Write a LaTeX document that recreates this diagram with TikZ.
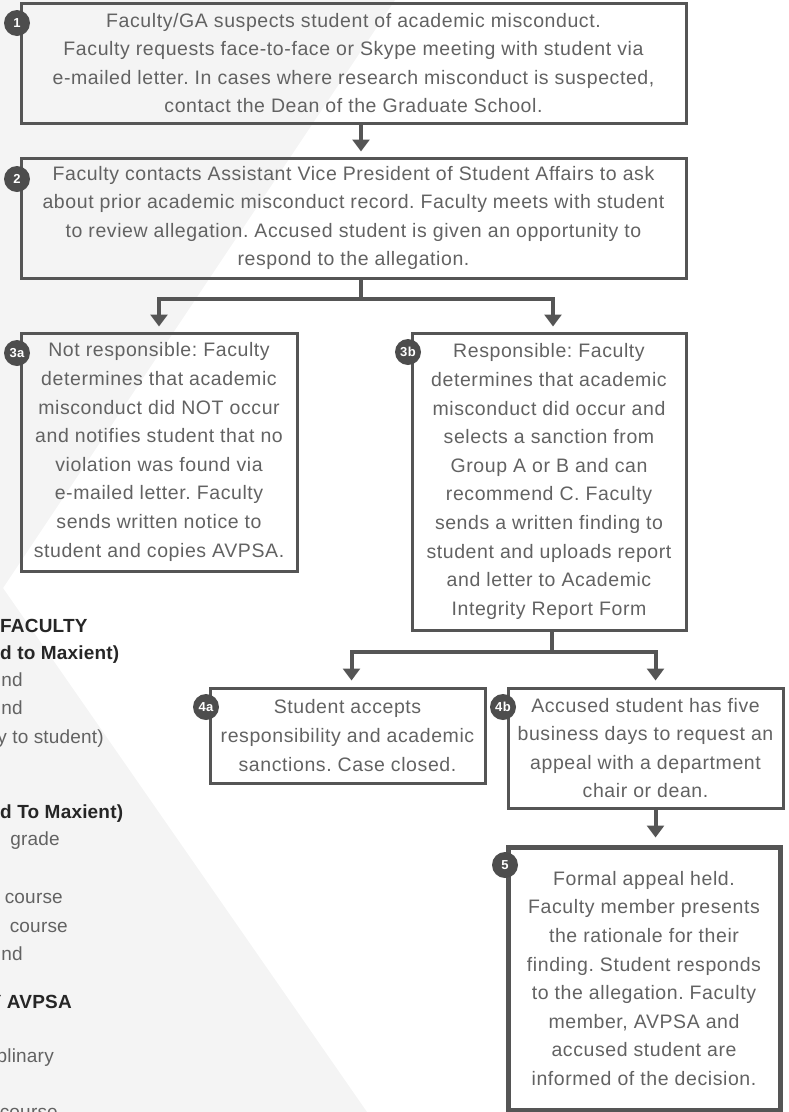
\documentclass[tikz,border=0pt]{standalone}
\usepackage{fontspec}
\setmainfont{Liberation Sans}[LetterSpace=3]
\newfontfamily\sidefont{Liberation Sans}[LetterSpace=1]
\usepackage{tikz}
\usetikzlibrary{arrows.meta,positioning}
\usepackage{xcolor}
\definecolor{ugline}{RGB}{85,85,85}
\definecolor{ugtext}{RGB}{98,98,98}
\definecolor{ugdark}{RGB}{38,38,38}
\definecolor{ugbg}{RGB}{244,244,244}
\definecolor{ugbadge}{RGB}{77,77,77}
\tikzstyle{flow} = [line width=4pt,-{Triangle[width=17pt,length=12pt]},color=ugline]
\frenchspacing

\begin{document}
\begin{tikzpicture}[x=1pt, y=-1pt,
    stepbox/.style={rectangle, draw=ugline, line width=3pt, align=center, text=ugtext, inner sep=0pt, font=\fontsize{19.5}{28.6}\selectfont},
    badge/.style={circle, fill=ugbadge, text=white, minimum size=26pt, inner sep=0pt, font=\fontsize{13}{13}\selectfont\bfseries},
    sidetext/.style={anchor=base east, inner sep=0pt, text=ugtext, font=\sidefont\fontsize{19}{24}\selectfont},
    sidehead/.style={anchor=base west, inner sep=0pt, text=ugdark, font=\sidefont\fontsize{19}{24}\selectfont\bfseries}]

\useasboundingbox (0,0) rectangle (788,1112);
\clip (0,0) rectangle (788,1112);

% Background wedge
\fill[ugbg] (0,0) -- (395,0) -- (3,588) -- (367,1112) -- (0,1112) -- cycle;

% Sanction list (cut off at the left edge)
\node[sidehead] (l1) at (0,632) {FACULTY};
\node[sidehead] (l2) at (0,659) {d to Maxient)};
\node[sidetext] (l3) at (23,686) {nd};
\node[sidetext] (l4) at (23,714) {nd};
\node[sidetext] (l5) at (104,743) {y to student)};
\node[sidehead] (l6) at (0,818) {d To Maxient)};
\node[sidetext] (l7) at (60,845) {grade};
\node[sidetext] (l8) at (63,903) {course};
\node[sidetext] (l9) at (68,932) {course};
\node[sidetext] (l10) at (23,960) {nd};
\node[sidehead, anchor=base east] (l11) at (72,1008) {Y AVPSA};
\node[sidetext] (l12) at (54,1062) {plinary};
\node[sidetext] (l13) at (58,1118) {course};

% Steps
\node[stepbox, minimum width=665pt, minimum height=120pt] (suspect) at (353.5,63) {Faculty/GA suspects student of academic misconduct.\\ Faculty requests face-to-face or Skype meeting with student via\\ e-mailed letter. In cases where research misconduct is suspected,\\ contact the Dean of the Graduate School.};
\node[stepbox, minimum width=665pt, minimum height=120pt] (contact) at (353.5,218) {Faculty contacts Assistant Vice President of Student Affairs to ask\\ about prior academic misconduct record. Faculty meets with student\\ to review allegation. Accused student is given an opportunity to\\ respond to the allegation.};

% Outcomes
\node[stepbox, minimum width=276pt, minimum height=238pt] (notresp) at (159,452) {Not responsible: Faculty\\ determines that academic\\ misconduct did NOT occur\\ and notifies student that no\\ violation was found via\\ e-mailed letter. Faculty\\ sends written notice to\\ student and copies AVPSA.};
\node[stepbox, minimum width=274pt, minimum height=297pt] (resp) at (549,481.5) {Responsible: Faculty\\ determines that academic\\ misconduct did occur and\\ selects a sanction from\\ Group A or B and can\\ recommend C. Faculty\\ sends a written finding to\\ student and uploads report\\ and letter to Academic\\ Integrity Report Form};

% Student response
\node[stepbox, minimum width=275pt, minimum height=95pt] (accept) at (347.5,735.5) {Student accepts\\ responsibility and academic\\ sanctions. Case closed.};
\node[stepbox, minimum width=275pt, minimum height=120pt] (appeal) at (645.5,748) {Accused student has five\\ business days to request an\\ appeal with a department\\ chair or dean.};
\node[stepbox, line width=5pt, minimum width=272pt, minimum height=263pt] (hearing) at (644,978.5) {Formal appeal held.\\ Faculty member presents\\ the rationale for their\\ finding. Student responds\\ to the allegation. Faculty\\ member, AVPSA and\\ accused student are\\ informed of the decision.};

% Junctions
\coordinate (j2) at (361,299);
\coordinate (j3) at (552,652);

% Connections
\draw[flow, shorten >=5pt] (suspect.south -| j2) -- (contact.north -| j2);
\draw[flow, shorten >=5pt] (contact.south -| j2) -- (j2) -| (notresp.north);
\draw[flow, shorten >=5pt] (j2) -| ([xshift=4pt]resp.north);
\draw[flow, shorten >=6pt] (resp.south -| j3) -- (j3) -| ([xshift=4pt]accept.north);
\draw[flow, shorten >=6pt] (j3) -| ([xshift=10pt]appeal.north);
\draw[flow, shorten >=7pt] ([xshift=10pt]appeal.south) -- ([xshift=10pt]appeal.south |- hearing.north);

% Step numbers
\node[badge] (n1) at (17,23) {1};
\node[badge] (n2) at (17,179) {2};
\node[badge] (n3a) at (17,353) {3a};
\node[badge] (n3b) at (408,352) {3b};
\node[badge] (n4a) at (206,707) {4a};
\node[badge] (n4b) at (503,707) {4b};
\node[badge] (n5) at (505,865) {5};
\end{tikzpicture}
\end{document}
